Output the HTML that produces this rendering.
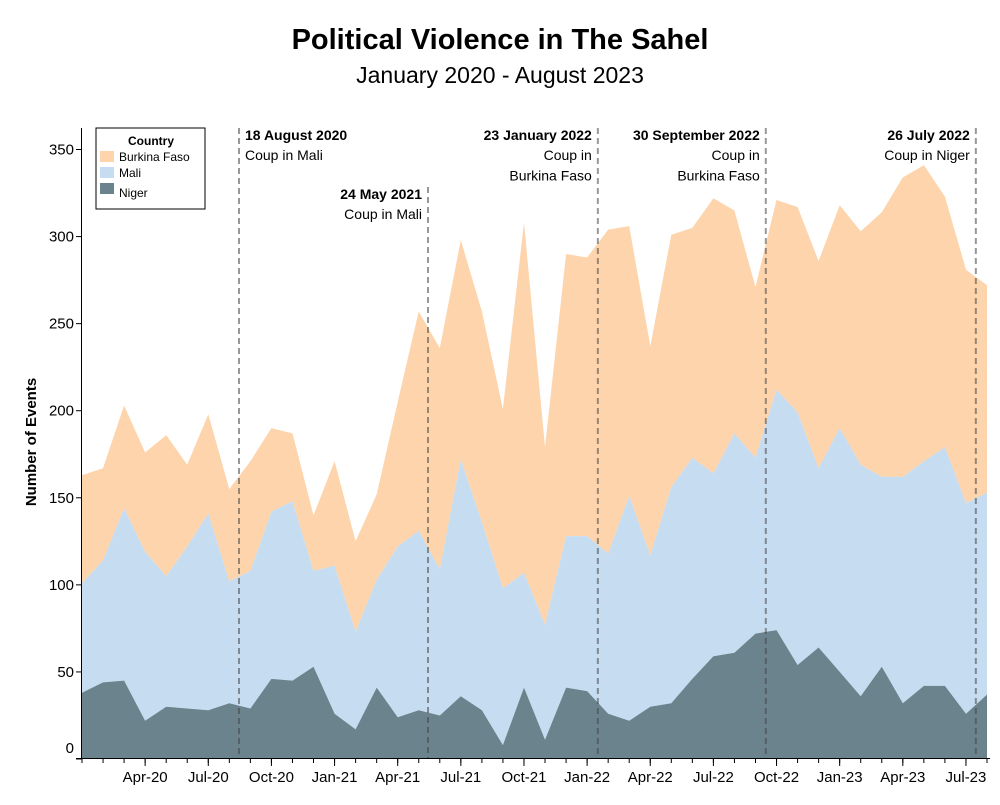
<!DOCTYPE html>
<html><head><meta charset="utf-8"><style>
body{margin:0;background:#fff;font-family:"Liberation Sans",sans-serif}
svg text{font-family:"Liberation Sans",sans-serif}
</style></head><body>
<svg id="chart" width="1000" height="800" xmlns="http://www.w3.org/2000/svg">
<text x="500" y="49" text-anchor="middle" font-size="29" font-weight="bold" fill="#000">Political Violence in The Sahel</text>
<text x="500" y="83" text-anchor="middle" font-size="23" fill="#000">January 2020 - August 2023</text>
<g id="areas"></g>
<g id="events"></g>
<g id="axes"></g>
<text transform="translate(36,442) rotate(-90)" text-anchor="middle" font-size="15" font-weight="bold">Number of Events</text>
<g>
<rect x="96" y="128" width="109" height="81" fill="#fff" stroke="#000" stroke-width="1"/>
<text x="151" y="145" text-anchor="middle" font-size="12" font-weight="bold">Country</text>
<rect x="100" y="151" width="14" height="11" fill="#fdd4ab"/>
<text x="119" y="161" font-size="12">Burkina Faso</text>
<rect x="100" y="167" width="14" height="11" fill="#c6dcf1"/>
<text x="119" y="177" font-size="12">Mali</text>
<rect x="100" y="183" width="14" height="11" fill="#6a838c"/>
<text x="119" y="197" font-size="12">Niger</text>
</g>
</svg>
<script>
const niger=[38,44,45,22,30,29,28,32,29,46,45,53,26,17,41,24,28,25,36,28,8,41,11,41,39,26,22,30,32,46,59,61,72,74,54,64,50,36,53,32,42,42,26,37];
const mali=[63,70,99,97,75,93,113,70,79,96,103,55,85,56,62,98,103,84,136,108,90,66,66,87,89,92,129,87,124,127,105,126,101,138,145,103,140,133,109,130,129,137,121,116];
const burkina=[62,53,59,57,81,47,57,53,63,48,39,32,60,52,49,83,126,127,126,121,103,201,102,162,160,186,155,120,145,132,158,128,98,109,118,119,128,134,152,172,170,144,134,119];
const yTicks=[0,50,100,150,200,250,300,350];
const xTickLabels=["Apr-20","Jul-20","Oct-20","Jan-21","Apr-21","Jul-21","Oct-21","Jan-22","Apr-22","Jul-22","Oct-22","Jan-23","Apr-23","Jul-23"];
const xTickMonths=[3,6,9,12,15,18,21,24,27,30,33,36,39,42];
const eventMonths=[7.46,16.44,24.51,32.49,42.47];
const eventDates=["18 August 2020","24 May 2021","23 January 2022","30 September 2022","26 July 2022"];
const eventText=[["Coup in Mali"],["Coup in Mali"],["Coup in","Burkina Faso"],["Coup in","Burkina Faso"],["Coup in Niger"]];
const eventSide=["right","left","left","left","left"];
const eventTop=[128,187,128,128,128];

const NS="http://www.w3.org/2000/svg";
const x=i=>82+i*(905/43);
const y=v=>759-v*(609.5/350);
function mk(tag,attrs,parent){const e=document.createElementNS(NS,tag);for(const k in attrs)e.setAttribute(k,attrs[k]);parent.appendChild(e);return e;}
const areas=document.getElementById('areas');
const n=niger.length;
const b0=niger.map(()=>0);
const b1=niger.slice();
const b2=niger.map((v,i)=>v+mali[i]);
const b3=b2.map((v,i)=>v+burkina[i]);
function areaPath(lo,hi){let d='';for(let i=0;i<n;i++)d+=(i?'L':'M')+x(i).toFixed(1)+','+y(hi[i]).toFixed(1);for(let i=n-1;i>=0;i--)d+='L'+x(i).toFixed(1)+','+y(lo[i]).toFixed(1);return d+'Z';}
const pb=mk('path',{d:areaPath(b2,b3),fill:'#fdd4ab'},areas);


const pm=mk('path',{d:areaPath(b1,b2),fill:'#c6dcf1'},areas);


const pn=mk('path',{d:areaPath(b0,b1),fill:'#6a838c'},areas);



const ev=document.getElementById('events');
eventMonths.forEach((m,k)=>{
  const xx=x(m);
  const l=mk('line',{x1:xx,x2:xx,y1:eventTop[k],y2:759,stroke:'#444','stroke-opacity':0.55,'stroke-width':2,'stroke-dasharray':'6,4'},ev);
  
  
  const anchor=eventSide[k]==='right'?'start':'end';
  const tx=eventSide[k]==='right'?xx+6:xx-6;
  const t=mk('text',{x:tx,y:eventTop[k]+12,'text-anchor':anchor,'font-size':14,'font-weight':'bold'},ev);
  t.textContent=eventDates[k];
  
  
  eventText[k].forEach((s,j)=>{
    const t2=mk('text',{x:tx,y:eventTop[k]+32+j*20.5,'text-anchor':anchor,'font-size':14},ev);
    t2.textContent=s;
    
    
  });
});

const ax=document.getElementById('axes');
mk('line',{x1:81.5,x2:81.5,y1:128,y2:759,stroke:'#000'},ax);
mk('line',{x1:76,x2:990,y1:758.5,y2:758.5,stroke:'#000'},ax);
yTicks.forEach(v=>{
  mk('line',{x1:76,x2:82,y1:y(v),y2:y(v),stroke:'#000'},ax);
  const t=mk('text',{x:74,y:v===0?y(v)-6:y(v)+5,'text-anchor':'end','font-size':15},ax);
  t.textContent=v;
  
  
});
for(let i=0;i<n;i++){mk('line',{x1:x(i),x2:x(i),y1:759,y2:763,stroke:'#000'},ax);}
xTickMonths.forEach((m,k)=>{
  mk('line',{x1:x(m),x2:x(m),y1:759,y2:766,stroke:'#000'},ax);
  const t=mk('text',{x:x(m),y:782,'text-anchor':'middle','font-size':15},ax);
  t.textContent=xTickLabels[k];
  
  
});
</script>
</body></html>
